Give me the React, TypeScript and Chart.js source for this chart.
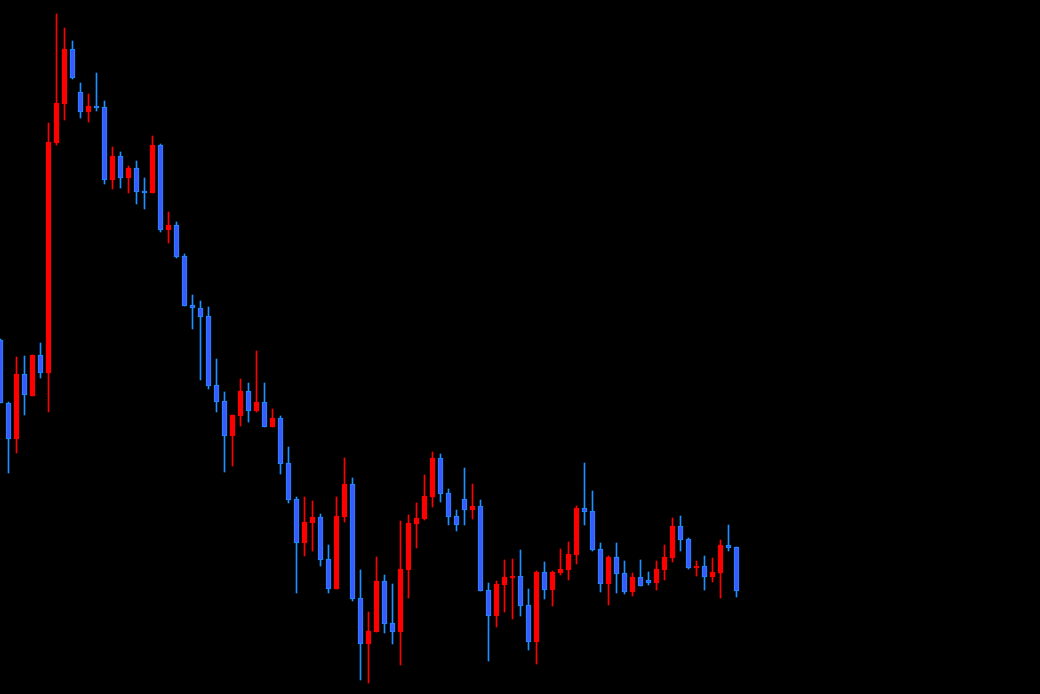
import React, { useEffect, useRef } from "react";
import { Chart, registerables } from "chart.js";

Chart.register(...registerables);

// Candle index (one slot per bar); chart has room for 130 slots
const slotCount = 130;

const opens = [354, 291, 255, 320, 298, 339, 321, 551, 590, 645, 602, 582, 588, 587, 514, 538, 516, 526, 503, 501,
  549, 464, 469, 438, 389, 386, 378, 309, 293, 258, 278, 303, 283, 292, 267, 276, 231, 195, 151, 171,
  177, 135, 105, 177, 210, 96, 50, 62, 113, 71, 62, 124, 170, 175, 197, 236, 201, 178, 195, 184,
  188, 104, 78, 109, 116, 118, 89, 52, 122, 104, 121, 124, 139, 186, 183, 145, 110, 137, 121, 102,
  117, 114, 111, 124, 136, 168, 155, 126, 128, 117, 121, 149, 147];
const highs = [355, 292, 337, 338, 339, 351, 571, 680, 666, 653, 611, 600, 621, 593, 547, 542, 528, 533, 516, 558,
  550, 482, 472, 440, 399, 393, 387, 335, 302, 279, 315, 311, 343, 311, 285, 278, 247, 197, 197, 193,
  180, 149, 197, 236, 216, 124, 82, 137, 119, 110, 173, 179, 191, 219, 242, 240, 205, 184, 226, 210,
  194, 111, 113, 134, 135, 144, 105, 123, 132, 123, 145, 152, 188, 231, 203, 151, 138, 151, 133, 121,
  134, 122, 133, 149, 176, 178, 156, 133, 138, 136, 154, 169, 147];
const lows = [291, 221, 241, 279, 298, 316, 282, 549, 574, 615, 576, 572, 583, 510, 505, 506, 501, 490, 485, 501,
  462, 451, 436, 388, 365, 314, 305, 282, 222, 228, 268, 272, 282, 267, 267, 220, 191, 101, 138, 143,
  128, 101, 105, 172, 93, 14, 11, 62, 61, 50, 29, 96, 146, 174, 187, 192, 169, 163, 169, 175,
  103, 33, 67, 82, 75, 78, 44, 30, 95, 88, 119, 114, 130, 169, 143, 102, 89, 101, 100, 98,
  108, 109, 104, 114, 132, 143, 125, 118, 104, 112, 96, 143, 97];
const closes = [291, 255, 320, 299, 339, 321, 552, 591, 645, 616, 582, 588, 586, 514, 538, 516, 526, 502, 501, 549,
  464, 469, 437, 388, 386, 377, 308, 292, 258, 279, 303, 283, 292, 267, 276, 230, 194, 151, 172, 177,
  134, 105, 178, 210, 95, 50, 63, 113, 70, 62, 125, 171, 176, 198, 236, 200, 177, 169, 184, 188,
  103, 78, 110, 117, 118, 88, 52, 122, 104, 122, 125, 140, 186, 182, 144, 110, 137, 120, 102, 117,
  108, 111, 125, 137, 168, 154, 126, 128, 117, 122, 149, 146, 103];

const UP_COLOR = "#ff0000";
const DOWN_FILL = "#3a5aff";
const DOWN_EDGE = "#1e90ff";

export default function App() {
  const canvasRef = useRef<HTMLCanvasElement | null>(null);

  useEffect(() => {
    document.body.style.margin = "0";
    document.body.style.background = "#000";
    const canvas = canvasRef.current;
    if (!canvas) return;

    const isUp = opens.map((o, i) => closes[i] >= o);
    const bodies = opens.map((o, i) => ({ x: i, y: [o, closes[i]] }));
    const wicks = lows.map((l, i) => ({ x: i, y: [l, highs[i]] }));

    const chart = new Chart(canvas, {
      type: "bar",
      data: {
        datasets: [
          {
            label: "body",
            data: bodies as any,
            barThickness: 5,
            grouped: false,
            backgroundColor: isUp.map((u) => (u ? UP_COLOR : DOWN_FILL)),
            borderColor: isUp.map((u) => (u ? UP_COLOR : DOWN_EDGE)),
            borderWidth: 1,
            borderSkipped: false,
          } as any,
          {
            label: "wick",
            data: wicks as any,
            barThickness: 1,
            grouped: false,
            backgroundColor: isUp.map((u) => (u ? UP_COLOR : DOWN_EDGE)),
            borderWidth: 0,
          } as any,
        ],
      },
      options: {
        animation: false,
        responsive: false,
        devicePixelRatio: 1,
        layout: { padding: 0 },
        plugins: { legend: { display: false }, tooltip: { enabled: false } },
        scales: {
          x: {
            type: "linear",
            display: false,
            min: -0.0625,
            max: slotCount - 0.0625,
            offset: false,
            grid: { display: false },
          },
          y: {
            type: "linear",
            display: false,
            min: 0,
            max: 694,
            grid: { display: false },
          },
        },
      },
    });
    return () => chart.destroy();
  }, []);

  return (
    <div style={{ position: "fixed", left: 0, top: 0, width: 1040, height: 694, background: "#000" }}>
      <canvas ref={canvasRef} width={1040} height={694} style={{ display: "block", width: 1040, height: 694 }} />
    </div>
  );
}
